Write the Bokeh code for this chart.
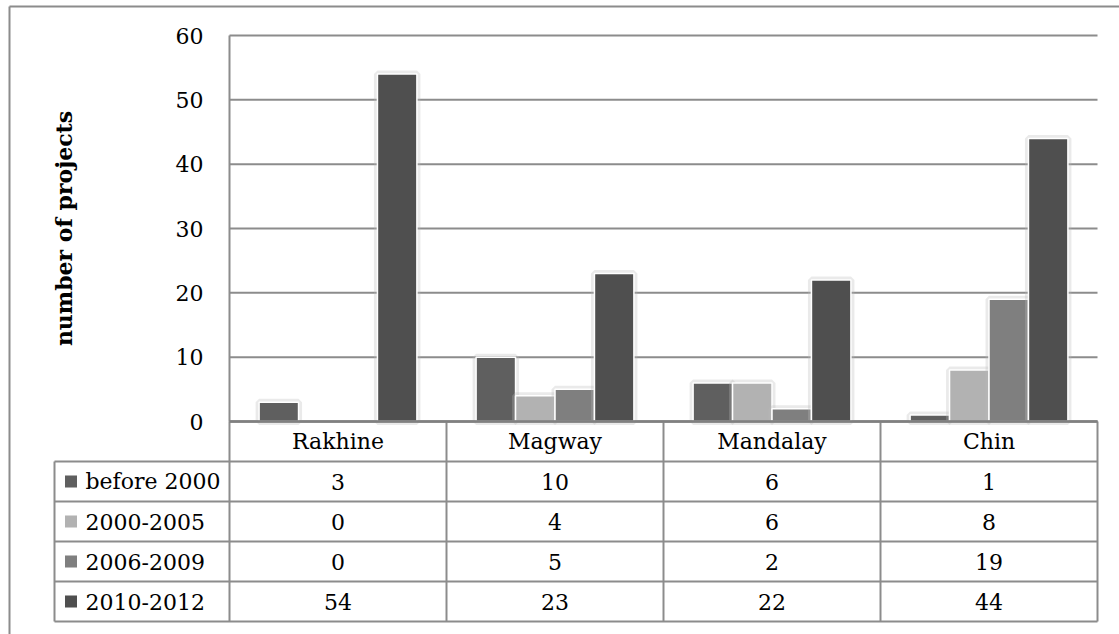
import math

from bokeh.plotting import figure
from bokeh.models import ColumnDataSource, Range1d
from bokeh.transform import dodge
from bokeh.core.properties import value
from bokeh.embed import file_html
from bokeh.resources import INLINE

# ---- data -------------------------------------------------------------
regions = ["Rakhine", "Magway", "Mandalay", "Chin"]
periods = ["before 2000", "2000-2005", "2006-2009", "2010-2012"]
before_2000 = [3, 10, 6, 1]
p2000_2005 = [0, 4, 6, 8]
p2006_2009 = [0, 5, 2, 19]
p2010_2012 = [54, 23, 22, 44]
y_ticks = [0, 10, 20, 30, 40, 50, 60]

series = [before_2000, p2000_2005, p2006_2009, p2010_2012]
colors = ["#5f5f5f", "#b2b2b2", "#7f7f7f", "#4f4f4f"]

# ---- styling / layout -------------------------------------------------
FONT = value("DejaVu Serif")
FS = "22px"
LINE = "#8c8c8c"

W, H = 1119, 634
LEFT, RIGHT = 229, 1097      # plot area edges, px
TOP, BASE = 35, 421          # y of the top tick and of zero, px
ROW_H = 40                   # table row height, px
TABLE_LEFT = 54
BORDER_X, BORDER_Y = 9, 6

n = len(regions)
nrows = len(periods)
cat_px = (RIGHT - LEFT) / n
k = (BASE - TOP) / y_ticks[-1]           # px per unit of value
bar_w = 1 / (len(series) + 1.5)          # gap width 150 %


def xpx(px):
    """horizontal pixel -> category coordinate"""
    return -0.5 + (px - LEFT) / cat_px


def ypx(px):
    """vertical pixel -> value coordinate"""
    return (BASE - px) / k


p = figure(width=W, height=H,
           x_range=Range1d(xpx(0), xpx(W)), y_range=Range1d(ypx(H), ypx(0)),
           output_backend="svg", toolbar_location=None,
           x_axis_location=None, y_axis_location=None,
           min_border=0, min_border_left=0, min_border_right=0,
           min_border_top=0, min_border_bottom=0)
# table rows are counted downwards from the zero line
p.extra_y_ranges = {"rows": Range1d((H - BASE) / ROW_H, -BASE / ROW_H)}
p.outline_line_color = None
p.grid.visible = False
p.background_fill_color = "white"
p.border_fill_color = "white"

# outer chart frame (top and left edges)
p.segment(x0=[xpx(BORDER_X), xpx(BORDER_X)], x1=[xpx(W + 5), xpx(BORDER_X)],
          y0=[ypx(BORDER_Y), ypx(BORDER_Y)], y1=[ypx(BORDER_Y), ypx(H + 5)],
          line_color=LINE, line_width=2)

# horizontal gridlines
p.segment(x0=[-0.5] * len(y_ticks), x1=[n - 0.5] * len(y_ticks),
          y0=y_ticks, y1=y_ticks, line_color=LINE, line_width=2)
# value axis line
p.segment(x0=[-0.5], x1=[-0.5], y0=[0], y1=[y_ticks[-1]],
          line_color=LINE, line_width=2)

# tick labels and axis title
p.text(x=[xpx(LEFT - 26)] * len(y_ticks), y=y_ticks, text=[str(t) for t in y_ticks],
       text_align="right", text_baseline="middle", text_font=FONT,
       text_font_size=FS, text_color="black")
p.text(x=[xpx(63)], y=[y_ticks[-1] / 2], text=["number of projects"], angle=math.pi / 2,
       text_align="center", text_baseline="middle", text_font=FONT,
       text_font_size=FS, text_font_style="bold", text_color="black")

# clustered bars
for s, (vals, col) in enumerate(zip(series, colors)):
    idx = [i for i, v in enumerate(vals) if v > 0]
    src = ColumnDataSource(dict(x=idx, v=[vals[i] for i in idx]))
    xs = dodge("x", (s - (len(series) - 1) / 2) * bar_w, range=p.x_range)
    # soft shadow around each bar
    p.vbar(x=xs, top="v", width=bar_w, source=src, fill_color=None,
           line_color="#b8b8b8", line_alpha=0.3, line_width=7)
    p.vbar(x=xs, top="v", width=bar_w, source=src, fill_color=col,
           line_color="white", line_width=1.5)

# ---- data table --------------------------------------------------------
x_left = xpx(TABLE_LEFT)
hx0 = [-0.5] + [x_left] * nrows + [x_left]
hy = list(range(nrows + 2))
p.segment(x0=hx0, x1=[n - 0.5] * len(hy), y0=hy, y1=hy,
          line_color=LINE, line_width=2, y_range_name="rows")
vx = [i - 0.5 for i in range(n + 1)]
p.segment(x0=vx + [x_left], x1=vx + [x_left],
          y0=[0] * len(vx) + [1], y1=[nrows + 1] * (len(vx) + 1),
          line_color=LINE, line_width=2, y_range_name="rows")
# zero line on top of the bar bases
p.segment(x0=[-0.5], x1=[n - 0.5], y0=[0], y1=[0],
          line_color="#808080", line_width=2.5, y_range_name="rows")

# header row: region names
p.text(x=list(range(n)), y=[0.5] * n, text=regions, text_align="center",
       text_baseline="middle", text_font=FONT, text_font_size=FS,
       text_color="black", y_range_name="rows")

# value cells
cx, cy, ct = [], [], []
for r, vals in enumerate(series):
    for c, v in enumerate(vals):
        cx.append(c)
        cy.append(r + 1.5)
        ct.append(str(v))
p.text(x=cx, y=cy, text=ct, text_align="center", text_baseline="middle",
       text_font=FONT, text_font_size=FS, text_color="black", y_range_name="rows")

# legend keys and series names
rows_y = [r + 1.5 for r in range(nrows)]
p.scatter(x=[xpx(70.5)] * nrows, y=rows_y, marker="square", size=12,
          fill_color=colors, line_color=None, y_range_name="rows")
p.text(x=[xpx(85)] * nrows, y=rows_y, text=periods, text_align="left",
       text_baseline="middle", text_font=FONT, text_font_size=FS,
       text_color="black", y_range_name="rows")

open("out.html", "w").write(file_html(p, INLINE))
